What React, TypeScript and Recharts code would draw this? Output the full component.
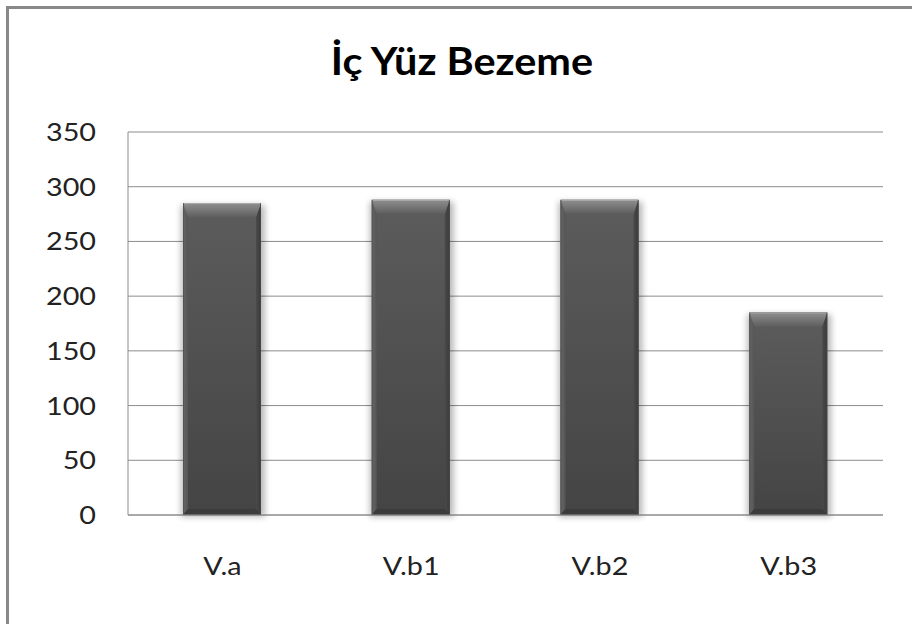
import React from 'react';
import { BarChart, Bar, XAxis, YAxis, CartesianGrid } from 'recharts';

// Category labels and their values
const categories = ['V.a', 'V.b1', 'V.b2', 'V.b3'];
const values = [285, 288, 288, 185];
const yTicks = [0, 50, 100, 150, 200, 250, 300, 350];
const title = 'İç Yüz Bezeme';

const data = categories.map((name, i) => ({ name, value: values[i] }));

const FONT = 'Lato, "Open Sans", sans-serif';
const GRID = '#8c8c8c';

// Bar with a bevelled top edge and a soft drop shadow
const BevelBar = (props: any) => {
  const { x, y, width, height } = props;
  if (!height || height <= 0) return null;
  const b = 14; // top bevel depth
  const s = 5; // side bevel width
  const bb = 6; // bottom bevel depth
  const r = x + width;
  const btm = y + height;
  return (
    <g>
      <rect x={x - 2} y={y + 2} width={width + 6} height={height} fill="#000" opacity={0.28} filter="url(#barShadow)" />
      <rect x={x} y={y} width={width} height={height} fill="url(#barBody)" />
      {/* left & right side bevels */}
      <polygon points={`${x},${y} ${x + s},${y + b} ${x + s},${btm - bb} ${x},${btm}`} fill="url(#barLeft)" />
      <polygon points={`${r},${y} ${r - s},${y + b} ${r - s},${btm - bb} ${r},${btm}`} fill="url(#barRight)" />
      {/* bottom bevel */}
      <polygon points={`${x},${btm} ${x + s},${btm - bb} ${r - s},${btm - bb} ${r},${btm}`} fill="#3b3b3b" />
      {/* top bevel */}
      <polygon points={`${x},${y} ${r},${y} ${r - s},${y + b} ${x + s},${y + b}`} fill="url(#barTop)" />
      <rect x={x + 0.5} y={y + 0.5} width={width - 1} height={height - 1} fill="none" stroke="#4a4a4a" strokeWidth={1} opacity={0.6} />
      <line x1={x + 1} y1={y + 0.5} x2={r - 1} y2={y + 0.5} stroke="#b4b4b4" strokeWidth={1} />
    </g>
  );
};

const YTick = (props: any) => {
  const { x, y, payload } = props;
  return (
    <text
      transform={`translate(${x},${y}) scale(1.15,1)`}
      x={0}
      y={0}
      dy="0.36em"
      textAnchor="end"
      fontFamily={FONT}
      fontSize={25}
      fill="#222"
    >
      {payload.value}
    </text>
  );
};

const XTick = (props: any) => {
  const { x, y, payload } = props;
  return (
    <text
      transform={`translate(${x},${y}) scale(1.15,1)`}
      x={0}
      y={0}
      dy="0.36em"
      textAnchor="middle"
      fontFamily={FONT}
      fontSize={25}
      fill="#222"
    >
      {payload.value}
    </text>
  );
};

export default function App() {
  return (
    <div style={{ position: 'absolute', left: 0, top: 0, width: 912, height: 624, overflow: 'hidden', background: '#fff' }}>
      <svg width={0} height={0} style={{ position: 'absolute' }}>
        <defs>
          <linearGradient id="barBody" x1="0" y1="0" x2="0" y2="1">
            <stop offset="0%" stopColor="#5c5c5c" />
            <stop offset="100%" stopColor="#444444" />
          </linearGradient>
          <linearGradient id="barTop" x1="0" y1="0" x2="0" y2="1">
            <stop offset="0%" stopColor="#8f8f8f" />
            <stop offset="55%" stopColor="#747474" />
            <stop offset="100%" stopColor="#5e5e5e" />
          </linearGradient>
          <linearGradient id="barLeft" x1="0" y1="0" x2="1" y2="0">
            <stop offset="0%" stopColor="#666666" />
            <stop offset="100%" stopColor="#555555" />
          </linearGradient>
          <linearGradient id="barRight" x1="0" y1="0" x2="1" y2="0">
            <stop offset="0%" stopColor="#4a4a4a" />
            <stop offset="100%" stopColor="#3a3a3a" />
          </linearGradient>
          <filter id="barShadow" x="-30%" y="-10%" width="160%" height="120%">
            <feGaussianBlur stdDeviation="3" />
          </filter>
        </defs>
      </svg>
      <BarChart
        width={912}
        height={624}
        data={data}
        margin={{ top: 132, right: 29, bottom: 49, left: 0 }}
        barSize={78}
      >
        <CartesianGrid vertical={false} stroke={GRID} strokeWidth={1} />
        <YAxis
          type="number"
          domain={[0, 350]}
          ticks={yTicks}
          width={128}
          tickLine={false}
          tickSize={0}
          tickMargin={32}
          axisLine={{ stroke: GRID }}
          tick={<YTick />}
          interval={0}
        />
        <XAxis
          dataKey="name"
          height={60}
          tickLine={false}
          tickSize={0}
          tickMargin={51}
          axisLine={{ stroke: GRID }}
          tick={<XTick />}
          interval={0}
        />
        <Bar dataKey="value" shape={<BevelBar />} isAnimationActive={false} />
      </BarChart>
      <svg width={912} height={624} style={{ position: 'absolute', left: 0, top: 0, pointerEvents: 'none' }}>
        <text
          transform="translate(462,75) scale(1.09,1)"
          x={0}
          y={0}
          textAnchor="middle"
          fontFamily={FONT}
          fontWeight={700}
          fontSize={38}
          fill="#000"
        >
          {title}
        </text>
        <rect x={6} y={6} width={3} height={624} fill="#888888" />
        <rect x={6} y={6} width={912} height={3} fill="#888888" />
      </svg>
    </div>
  );
}
